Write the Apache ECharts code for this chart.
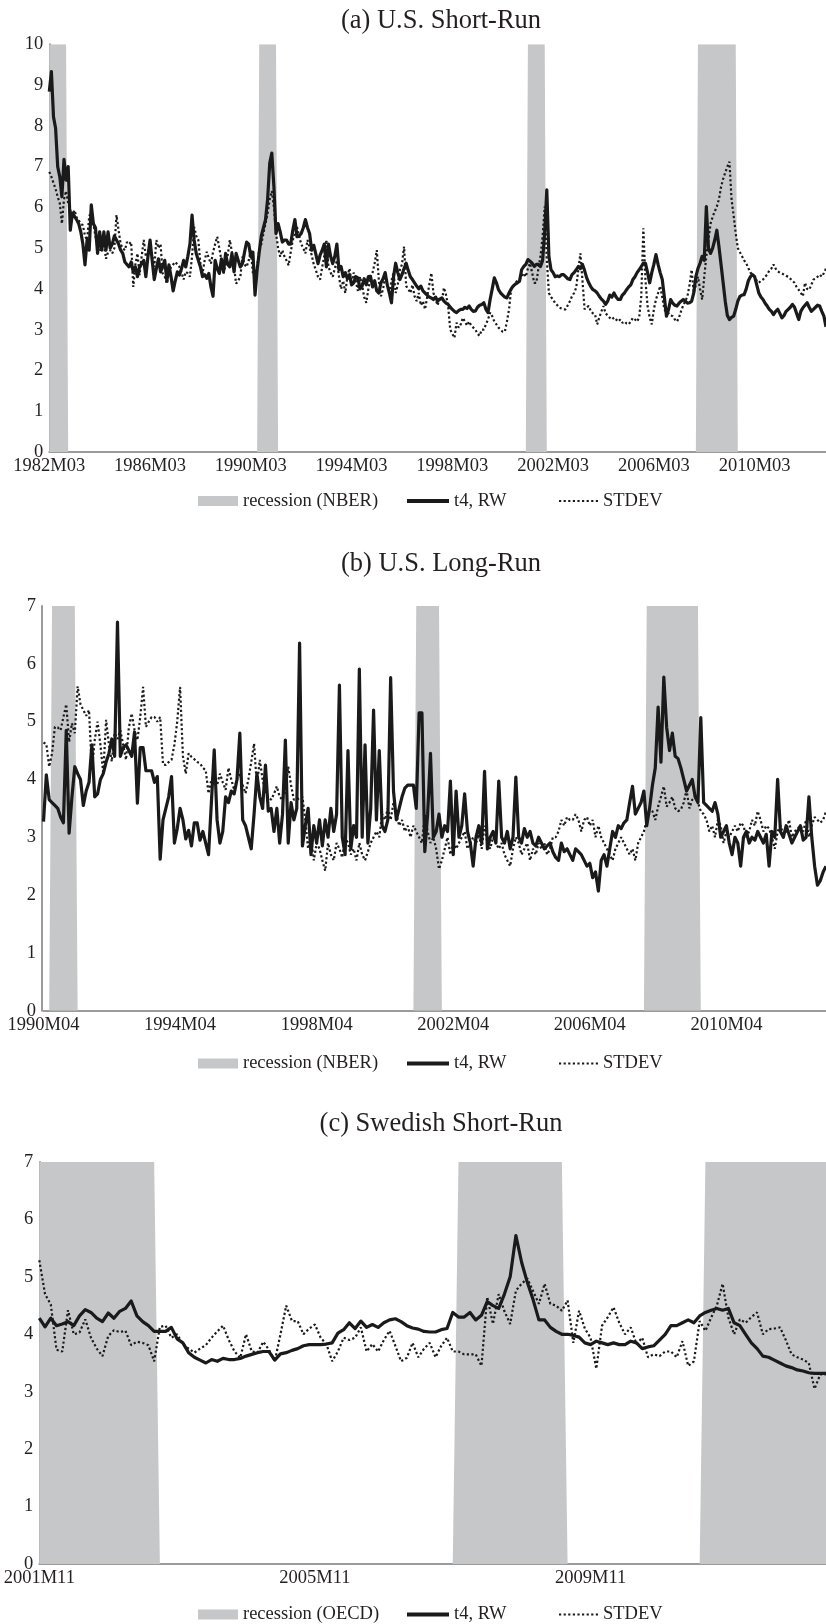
<!DOCTYPE html>
<html>
<head>
<meta charset="utf-8">
<title>Forecast uncertainty: t4 random walk vs. standard deviation</title>
<script src="https://cdn.jsdelivr.net/npm/echarts@6/dist/echarts.min.js"></script>
<style>
  html, body { margin: 0; padding: 0; background: #ffffff; }
  #chart { width: 826px; height: 1624px; }
</style>
</head>
<body>
<div id="chart"></div>
<script>
// ---------------------------------------------------------------------------
// Data: monthly series, one value per month from the stated start month.
// ---------------------------------------------------------------------------

// (a) U.S. short-run, 1982M03 onward
const usShortStart = '1982M03';
const usShortT4 = [
  8.84, 9.33, 8.22, 7.94, 7.00, 6.75, 6.26, 7.18, 6.67, 7.00,
  5.44, 5.86, 5.78, 5.70, 5.60, 5.40, 5.10, 4.59, 5.20, 4.95,
  6.06, 5.60, 5.50, 4.87, 5.40, 4.95, 5.40, 4.95, 5.40, 5.00,
  5.10, 5.30, 5.20, 5.10, 4.95, 4.87, 4.66, 4.60, 4.54, 4.66,
  4.42, 4.54, 4.30, 4.54, 4.62, 4.70, 4.30, 4.80, 5.20, 4.70,
  4.23, 4.50, 4.74, 4.42, 4.55, 4.70, 4.19, 4.59, 4.30, 3.95,
  4.20, 4.42, 4.34, 4.50, 4.70, 4.54, 4.80, 5.10, 5.81, 5.20,
  4.87, 4.70, 4.54, 4.30, 4.35, 4.26, 4.38, 4.05, 3.82, 4.70,
  4.50, 4.38, 4.74, 4.42, 4.87, 4.60, 4.54, 4.87, 4.42, 4.87,
  4.70, 4.54, 4.62, 4.90, 5.15, 5.10, 4.79, 4.90, 3.85, 4.46,
  4.90, 5.30, 5.50, 5.70, 6.20, 7.08, 7.33, 6.50, 5.36, 5.60,
  5.40, 5.15, 5.20, 5.20, 5.10, 5.10, 5.44, 5.70, 5.28, 5.30,
  5.36, 5.50, 5.70, 5.50, 5.36, 4.95, 5.07, 4.85, 4.62, 4.83,
  4.95, 5.10, 4.54, 5.10, 4.80, 4.62, 4.80, 5.10, 4.47, 4.55,
  4.30, 4.40, 4.25, 4.35, 4.10, 4.15, 4.30, 4.27, 4.00, 4.07,
  4.25, 4.10, 4.30, 4.31, 4.05, 4.20, 3.95, 3.90, 4.15, 4.25,
  4.40, 4.10, 3.90, 3.66, 4.30, 4.63, 4.40, 4.23, 4.35, 4.50,
  4.63, 4.45, 4.30, 4.23, 4.15, 4.07, 4.00, 4.07, 3.95, 3.90,
  3.85, 3.80, 3.78, 3.74, 3.80, 3.70, 3.75, 3.78, 3.70, 3.65,
  3.62, 3.55, 3.50, 3.45, 3.42, 3.47, 3.50, 3.50, 3.55, 3.52,
  3.58, 3.50, 3.45, 3.46, 3.55, 3.60, 3.62, 3.66, 3.50, 3.42,
  3.74, 4.00, 4.27, 4.15, 3.98, 3.90, 3.85, 3.80, 3.78, 3.90,
  4.00, 4.07, 4.12, 4.15, 4.19, 4.47, 4.55, 4.60, 4.72, 4.68,
  4.63, 4.55, 4.60, 4.60, 4.55, 4.70, 5.40, 6.43, 4.80, 4.47,
  4.40, 4.30, 4.32, 4.30, 4.35, 4.35, 4.30, 4.25, 4.23, 4.35,
  4.40, 4.47, 4.55, 4.50, 4.60, 4.45, 4.27, 4.15, 4.05, 3.98,
  3.95, 3.90, 3.82, 3.75, 3.70, 3.62, 3.70, 3.85, 3.80, 3.90,
  3.80, 3.74, 3.74, 3.85, 3.90, 3.98, 4.05, 4.10, 4.23, 4.30,
  4.40, 4.47, 4.55, 4.63, 4.63, 4.40, 4.15, 4.40, 4.60, 4.84,
  4.60, 4.40, 4.23, 3.80, 3.33, 3.50, 3.74, 3.65, 3.60, 3.58,
  3.65, 3.70, 3.74, 3.70, 3.65, 3.66, 3.70, 3.90, 4.30, 4.50,
  4.63, 4.80, 4.70, 6.02, 5.00, 4.87, 5.00, 5.20, 5.44, 5.04,
  4.60, 4.15, 3.70, 3.35, 3.25, 3.30, 3.33, 3.50, 3.70, 3.82,
  3.85, 3.86, 4.00, 4.20, 4.30, 4.35, 4.30, 4.10, 3.90, 3.80,
  3.74, 3.65, 3.58, 3.50, 3.45, 3.37, 3.45, 3.50, 3.40, 3.29,
  3.35, 3.45, 3.50, 3.55, 3.62, 3.55, 3.40, 3.25, 3.45, 3.54,
  3.60, 3.66, 3.55, 3.45, 3.50, 3.55, 3.60, 3.58, 3.45, 3.33,
  3.07
];
const usShortStdev = [
  6.87, 6.75, 6.60, 6.45, 6.26, 6.10, 5.60, 6.20, 6.40, 6.10,
  5.93, 5.80, 5.93, 5.75, 5.68, 5.60, 5.56, 5.30, 5.20, 5.77,
  5.93, 5.60, 5.28, 5.10, 4.95, 5.00, 5.10, 4.74, 4.90, 4.95,
  4.87, 5.00, 5.81, 5.44, 5.10, 5.00, 4.95, 5.15, 5.10, 5.15,
  4.05, 4.60, 4.87, 4.34, 4.80, 5.20, 4.79, 4.90, 5.07, 4.80,
  4.54, 5.20, 5.00, 5.10, 4.38, 4.30, 4.13, 4.40, 4.54, 4.60,
  4.66, 4.60, 4.54, 4.40, 4.23, 4.42, 4.38, 4.30, 4.80, 5.52,
  5.30, 5.20, 4.60, 4.38, 4.70, 4.91, 4.75, 4.62, 4.90, 5.10,
  5.28, 5.00, 4.70, 4.38, 4.60, 4.83, 5.20, 4.90, 4.54, 4.13,
  4.20, 4.30, 4.79, 4.60, 4.54, 4.70, 4.95, 4.38, 4.45, 4.54,
  4.95, 5.10, 5.36, 5.60, 5.85, 6.20, 6.40, 6.00, 5.36, 5.00,
  4.79, 4.95, 4.80, 4.70, 4.58, 4.90, 5.20, 5.35, 5.52, 5.30,
  5.10, 5.00, 4.87, 5.20, 5.00, 4.83, 4.60, 4.46, 4.30, 4.23,
  4.54, 4.80, 5.20, 4.54, 4.40, 4.30, 4.50, 4.70, 4.30, 4.00,
  4.20, 3.90, 4.30, 4.50, 4.15, 4.40, 4.20, 3.95, 4.30, 4.10,
  3.80, 3.66, 4.00, 4.30, 4.40, 4.63, 4.95, 4.20, 3.82, 4.00,
  4.30, 4.10, 3.90, 4.20, 4.40, 3.90, 4.10, 4.47, 4.60, 5.04,
  4.07, 4.00, 3.90, 4.10, 3.82, 3.70, 3.90, 3.60, 3.70, 3.50,
  3.80, 4.10, 4.39, 3.90, 3.74, 3.60, 3.80, 3.70, 4.03, 3.85,
  3.58, 3.00, 2.90, 2.80, 3.17, 3.05, 3.13, 3.29, 3.20, 3.10,
  3.20, 3.10, 3.05, 3.00, 2.90, 2.85, 3.00, 3.00, 3.13, 3.25,
  3.42, 3.33, 3.20, 3.13, 3.05, 3.00, 2.95, 2.95, 3.20, 3.50,
  3.98, 4.07, 4.15, 4.20, 4.23, 4.30, 4.39, 4.30, 4.50, 4.63,
  4.40, 4.15, 4.15, 4.50, 4.80, 5.30, 6.02, 4.72, 3.90, 3.80,
  3.74, 3.65, 3.60, 3.54, 3.52, 3.50, 3.50, 3.60, 3.70, 3.82,
  3.90, 4.03, 4.47, 4.87, 4.20, 3.50, 3.55, 3.58, 3.45, 3.40,
  3.37, 3.13, 3.30, 3.45, 3.58, 3.40, 3.35, 3.29, 3.25, 3.30,
  3.25, 3.20, 3.25, 3.17, 3.20, 3.15, 3.13, 3.20, 3.29, 3.25,
  3.20, 3.30, 3.82, 5.49, 4.20, 3.58, 3.30, 3.13, 3.50, 3.74,
  3.90, 4.07, 3.80, 3.50, 3.42, 3.40, 3.35, 3.33, 3.25, 3.20,
  3.30, 3.46, 3.60, 3.70, 3.82, 4.10, 4.47, 3.90, 4.10, 4.30,
  4.00, 3.74, 4.30, 4.80, 5.20, 5.60, 5.77, 5.90, 6.02, 6.20,
  6.50, 6.70, 6.85, 7.00, 7.12, 6.20, 5.80, 5.36, 5.00, 4.90,
  4.80, 4.70, 4.63, 4.51, 4.40, 4.35, 4.30, 4.20, 4.15, 4.20,
  4.23, 4.30, 4.35, 4.45, 4.50, 4.60, 4.50, 4.43, 4.40, 4.38,
  4.35, 4.32, 4.30, 4.25, 4.20, 4.15, 4.05, 3.98, 3.90, 3.82,
  4.15, 4.00, 3.98, 4.10, 4.23, 4.25, 4.30, 4.35, 4.30, 4.39,
  4.50
];
const nberShort = [['1982M03', '1982M11'], ['1990M07', '1991M03'], ['2001M03', '2001M11'], ['2007M12', '2009M06']];

// (b) U.S. long-run, 1990M04 onward
const usLongStart = '1990M04';
const usLongT4 = [
  3.27, 4.08, 3.65, 3.60, 3.55, 3.50, 3.35, 3.25, 4.85, 3.07,
  3.70, 4.22, 4.10, 4.00, 3.55, 3.80, 3.95, 4.60, 3.70, 3.75,
  4.00, 4.10, 4.30, 4.45, 4.70, 4.40, 6.72, 4.40, 4.55, 4.60,
  4.50, 4.40, 4.82, 3.59, 4.55, 4.55, 4.15, 4.15, 4.15, 3.95,
  4.05, 2.62, 3.30, 3.50, 3.70, 4.05, 2.90, 3.15, 3.50, 3.30,
  2.97, 3.12, 2.85, 3.25, 3.25, 2.95, 3.10, 2.90, 2.70, 3.60,
  4.51, 3.30, 2.90, 3.10, 3.70, 3.60, 3.80, 3.75, 4.00, 4.80,
  3.30, 3.20, 3.00, 2.80, 3.40, 4.10, 3.70, 3.50, 4.25, 3.45,
  3.50, 3.10, 3.50, 2.90, 3.40, 4.68, 2.90, 3.60, 3.30, 3.50,
  6.36, 2.85, 3.20, 3.50, 2.70, 3.20, 2.90, 3.30, 2.85, 3.30,
  3.00, 3.50, 3.10, 3.40, 5.63, 3.00, 2.70, 4.50, 2.80, 3.20,
  3.00, 5.91, 3.00, 4.60, 2.90, 3.50, 5.20, 3.30, 4.50, 3.20,
  3.10, 3.30, 5.76, 3.80, 3.30, 3.50, 3.70, 3.85, 3.90, 3.90,
  3.90, 3.50, 5.15, 5.15, 2.75, 3.40, 4.45, 3.00, 3.10, 3.40,
  3.00, 3.20, 3.10, 3.97, 2.70, 3.80, 3.00, 3.20, 3.75, 3.10,
  2.90, 2.50, 3.00, 3.20, 2.90, 4.14, 2.80, 3.00, 3.10, 2.90,
  3.97, 3.00, 2.90, 3.10, 2.80, 3.00, 4.04, 3.00, 2.90, 3.15,
  3.00, 3.10, 2.90, 2.85, 3.00, 2.90, 2.80, 2.85, 2.90, 2.75,
  2.65, 2.60, 2.90, 2.75, 2.80, 2.70, 2.60, 2.80, 2.75, 2.70,
  2.60, 2.50, 2.55, 2.30, 2.40, 2.07, 2.60, 2.70, 2.50, 2.80,
  3.10, 3.00, 3.20, 3.15, 3.25, 3.30, 3.60, 3.88, 3.40, 3.50,
  3.60, 3.80, 3.20, 3.50, 3.90, 4.20, 5.25, 4.30, 5.77, 4.90,
  4.50, 4.80, 4.40, 4.36, 4.20, 4.00, 3.80, 3.90, 4.00, 3.70,
  3.60, 5.07, 3.60, 3.55, 3.50, 3.45, 3.60, 3.40, 3.00, 3.10,
  3.20, 2.90, 2.70, 3.00, 2.90, 2.50, 3.00, 3.10, 2.90, 3.00,
  2.95, 3.10, 3.00, 2.90, 3.05, 2.50, 3.10, 3.00, 4.00, 3.10,
  3.00, 3.20, 3.05, 2.90, 3.00, 3.10, 3.20, 2.95, 3.00, 3.70,
  3.00, 2.50, 2.17, 2.25, 2.40, 2.50
];
const usLongStdev = [
  4.64, 4.61, 4.22, 4.45, 4.91, 4.90, 4.85, 5.08, 5.30, 4.65,
  4.97, 4.80, 5.61, 5.30, 5.20, 5.10, 5.20, 4.16, 4.68, 5.00,
  4.60, 4.10, 5.03, 4.60, 4.31, 4.80, 4.70, 4.85, 4.60, 4.34,
  4.90, 5.14, 4.85, 4.68, 5.08, 5.60, 4.91, 5.00, 5.08, 5.08,
  5.00, 5.08, 4.26, 4.25, 4.30, 4.34, 4.60, 5.00, 5.60, 4.40,
  4.10, 4.45, 4.39, 4.35, 4.30, 4.28, 4.20, 4.16, 3.76, 4.00,
  4.05, 3.90, 4.10, 3.95, 3.82, 4.20, 4.00, 3.82, 4.00, 4.10,
  3.90, 3.76, 4.00, 4.30, 4.62, 3.88, 4.34, 4.00, 3.76, 3.70,
  3.65, 3.75, 3.88, 3.70, 3.65, 3.80, 4.22, 3.90, 3.65, 3.65,
  3.68, 3.70, 3.30, 2.80, 3.00, 2.60, 2.90, 2.80, 2.60, 2.42,
  2.90, 2.70, 2.60, 2.90, 2.80, 2.65, 3.00, 2.90, 2.70, 2.80,
  2.60, 2.90, 2.70, 2.60, 2.75, 2.90, 3.00, 3.10, 3.00, 3.40,
  3.30, 3.50, 3.30, 3.60, 3.40, 3.20, 3.30, 3.10, 3.20, 3.00,
  3.20, 3.10, 3.00, 2.90, 3.40, 3.10, 2.90, 3.00, 2.80, 2.45,
  2.60, 2.80, 3.00, 2.70, 2.90, 2.80, 2.90, 3.00, 3.10, 2.80,
  2.90, 3.00, 2.90, 3.05, 2.80, 3.20, 2.90, 2.80, 3.00, 2.90,
  2.80, 2.90, 2.70, 2.60, 2.50, 2.80, 3.00, 2.90, 2.70, 2.80,
  2.90, 2.60, 2.80, 2.70, 2.90, 2.80, 2.90, 2.70, 2.80, 3.00,
  3.00, 3.10, 3.30, 3.20, 3.35, 3.30, 3.30, 3.40, 3.30, 3.10,
  3.30, 3.35, 3.20, 3.30, 3.00, 3.20, 3.00, 2.90, 2.80, 2.70,
  2.60, 2.80, 2.90, 3.00, 2.90, 2.80, 2.70, 2.80, 2.60, 2.90,
  3.00, 3.10, 3.30, 3.50, 3.45, 3.30, 3.53, 3.70, 3.88, 3.53,
  3.60, 3.70, 3.50, 3.45, 3.48, 3.60, 3.82, 3.50, 3.65, 3.70,
  3.60, 3.45, 3.40, 3.30, 3.10, 3.20, 3.00, 3.30, 3.20, 2.90,
  3.10, 3.00, 3.10, 3.20, 3.10, 3.25, 3.20, 3.00, 3.10, 3.30,
  3.20, 3.45, 3.30, 3.10, 3.20, 3.15, 3.00, 2.80, 3.10, 3.20,
  3.05, 3.10, 3.30, 3.00, 3.10, 3.15, 3.20, 3.10, 3.30, 3.00,
  3.20, 3.35, 3.30, 3.25, 3.30, 3.45
];
const nberLong = [['1990M07', '1991M03'], ['2001M03', '2001M11'], ['2007M12', '2009M06']];

// (c) Swedish short-run, 2001M11 onward
const seShortStart = '2001M11';
const seShortT4 = [
  4.28, 4.13, 4.28, 4.15, 4.18, 4.22, 4.15, 4.32, 4.43, 4.38,
  4.28, 4.22, 4.37, 4.28, 4.40, 4.45, 4.58, 4.32, 4.22, 4.15,
  4.05, 4.05, 4.05, 4.12, 3.92, 3.85, 3.68, 3.60, 3.55, 3.50,
  3.56, 3.53, 3.58, 3.56, 3.56, 3.58, 3.62, 3.65, 3.68, 3.70,
  3.70, 3.55, 3.66, 3.68, 3.72, 3.75, 3.80, 3.82, 3.82, 3.82,
  3.83, 3.85, 4.02, 4.08, 4.20, 4.10, 4.23, 4.12, 4.17, 4.12,
  4.20, 4.25, 4.27, 4.22, 4.15, 4.11, 4.09, 4.05, 4.04, 4.04,
  4.08, 4.10, 4.38, 4.30, 4.30, 4.38, 4.25, 4.33, 4.57, 4.50,
  4.45, 4.70, 5.00, 5.72, 5.25, 4.90, 4.60, 4.25, 4.25, 4.12,
  4.05, 4.00, 4.00, 3.98, 3.95, 3.85, 3.82, 3.88, 3.85, 3.82,
  3.85, 3.82, 3.82, 3.88, 3.85, 3.75, 3.78, 3.80, 3.90, 4.00,
  4.15, 4.15, 4.20, 4.25, 4.20, 4.32, 4.38, 4.42, 4.45, 4.42,
  4.45, 4.20, 4.15, 4.00, 3.85, 3.75, 3.62, 3.60, 3.55, 3.50,
  3.45, 3.42, 3.38, 3.36, 3.33, 3.32, 3.32, 3.32
];
const seShortStdev = [
  5.29, 4.70, 4.52, 3.73, 3.70, 4.42, 4.00, 4.03, 4.26, 3.94,
  3.75, 3.62, 3.97, 4.07, 4.04, 4.06, 3.81, 3.87, 3.85, 3.81,
  3.53, 4.13, 4.15, 3.94, 4.00, 3.83, 3.75, 3.68, 3.75, 3.81,
  3.94, 4.05, 4.15, 3.90, 3.70, 3.59, 4.00, 3.70, 3.68, 3.87,
  3.73, 3.53, 4.00, 4.50, 4.23, 4.23, 4.00, 4.10, 4.17, 3.94,
  3.83, 3.53, 3.70, 3.94, 3.90, 3.94, 4.12, 3.70, 3.83, 3.70,
  3.90, 4.06, 3.80, 3.53, 3.59, 3.85, 3.60, 3.75, 3.85, 3.60,
  3.80, 3.94, 3.70, 3.70, 3.65, 3.65, 3.65, 3.45, 4.65, 4.18,
  4.70, 4.40, 4.18, 4.76, 4.88, 4.97, 4.75, 4.53, 4.88, 4.53,
  4.50, 4.41, 4.59, 3.85, 4.41, 4.10, 3.94, 3.40, 4.15, 4.30,
  4.47, 4.20, 4.00, 4.12, 3.83, 3.94, 3.60, 3.65, 3.62, 3.70,
  3.70, 3.60, 3.88, 3.45, 3.53, 4.23, 4.06, 4.29, 4.50, 4.88,
  4.29, 4.00, 4.26, 4.20, 4.30, 4.38, 4.00, 4.09, 4.10, 4.12,
  3.90, 3.65, 3.60, 3.56, 3.50, 3.05, 3.30, 3.30
];
const oecdSweden = [['2001M11', '2003M07'], ['2007M12', '2009M06'], ['2011M07', '2013M04']];

// Every fourth year gets an axis label (48 months).
const LABEL_STEP = 48;

// ---------------------------------------------------------------------------
// Helpers
// ---------------------------------------------------------------------------
function monthLabels(start, count) {
  const parts = start.split('M');
  let y = Number(parts[0]);
  let m = Number(parts[1]);
  const out = [];
  for (let i = 0; i < count; i++) {
    out.push(y + 'M' + (m < 10 ? '0' + m : String(m)));
    m += 1;
    if (m > 12) { m = 1; y += 1; }
  }
  return out;
}

// Recession indicator: full axis height inside a dated period, zero outside.
function recessionBand(labels, periods, top) {
  return labels.map(function (l) {
    return periods.some(function (p) { return l >= p[0] && l <= p[1]; }) ? top : 0;
  });
}

// ---------------------------------------------------------------------------
// Layout and styling of the three stacked panels
// ---------------------------------------------------------------------------
const FONT = '"Liberation Serif", "Times New Roman", Times, serif';
const INK = '#231f20';
const AXIS_GREY = '#9b9b9b';
const SHADE = '#c6c7c9';

const panels = [
  { title: '(a) U.S. Short-Run', titleTop: 7.5, start: usShortStart, t4: usShortT4, sd: usShortStdev,
    periods: nberShort, recName: 'recession (NBER)', yMax: 10, yOffset: 0,
    grid: { left: 49.3, top: 44.3, right: 0, height: 407.7 }, legendTop: 491.5 },
  { title: '(b) U.S. Long-Run', titleTop: 550.5, start: usLongStart, t4: usLongT4, sd: usLongStdev,
    periods: nberLong, recName: 'recession (NBER) ', yMax: 7, yOffset: 1.5,
    grid: { left: 43.5, top: 606, right: 0, height: 404.7 }, legendTop: 1054 },
  { title: '(c) Swedish Short-Run', titleTop: 1110.5, start: seShortStart, t4: seShortT4, sd: seShortStdev,
    periods: oecdSweden, recName: 'recession (OECD)', yMax: 7, yOffset: 0,
    grid: { left: 39.3, top: 1162, right: 0, height: 402 }, legendTop: 1605 }
];

const labelText = { fontFamily: FONT, fontSize: 18.5, color: INK };

const option = {
  animation: false,
  backgroundColor: '#ffffff',
  title: [],
  grid: [],
  xAxis: [],
  yAxis: [],
  legend: [],
  series: []
};

panels.forEach(function (p, k) {
  const labels = monthLabels(p.start, p.t4.length);
  // legend entries repeat per panel; trailing spaces keep the names distinct
  const pad = k === 0 ? '' : (k === 1 ? ' ' : '  ');
  const t4Name = 't4, RW' + pad;
  const sdName = 'STDEV' + pad;

  option.title.push({
    text: p.title,
    left: 441,
    top: p.titleTop,
    textAlign: 'center',
    padding: 0,
    textStyle: { fontFamily: FONT, fontSize: 26.5, fontWeight: 'normal', color: INK }
  });

  option.grid.push(Object.assign({ containLabel: false }, p.grid));

  option.xAxis.push({
    type: 'category',
    gridIndex: k,
    data: labels,
    boundaryGap: false,
    axisLine: { show: true, lineStyle: { color: AXIS_GREY, width: 2 } },
    axisTick: { show: false },
    splitLine: { show: false },
    axisLabel: Object.assign({ interval: LABEL_STEP - 1, margin: 5, showMinLabel: true }, labelText)
  });

  option.yAxis.push({
    type: 'value',
    gridIndex: k,
    min: 0,
    max: p.yMax,
    interval: 1,
    offset: p.yOffset,
    axisLine: { show: true, lineStyle: { color: AXIS_GREY, width: 2 } },
    axisTick: { show: false },
    splitLine: { show: false },
    axisLabel: Object.assign({ margin: 6 }, labelText)
  });

  option.series.push({
    name: p.recName,
    type: 'line',
    xAxisIndex: k,
    yAxisIndex: k,
    data: recessionBand(labels, p.periods, p.yMax),
    symbol: 'none',
    silent: true,
    z: 1,
    itemStyle: { color: SHADE },
    lineStyle: { width: 0, opacity: 0 },
    areaStyle: { color: SHADE, opacity: 1 }
  });
  option.series.push({
    name: t4Name,
    type: 'line',
    xAxisIndex: k,
    yAxisIndex: k,
    data: p.t4,
    symbol: 'none',
    silent: true,
    z: 3,
    itemStyle: { color: '#1a1a1a' },
    lineStyle: { color: '#1a1a1a', width: 3.2, join: 'round' }
  });
  option.series.push({
    name: sdName,
    type: 'line',
    xAxisIndex: k,
    yAxisIndex: k,
    data: p.sd,
    symbol: 'none',
    silent: true,
    z: 4,
    itemStyle: { color: '#1a1a1a' },
    lineStyle: { color: '#1a1a1a', width: 2.2, type: [2.2, 2.4] }
  });

  const legendBase = { top: p.legendTop, padding: 0, selectedMode: false, textStyle: labelText,
    formatter: function (n) { return n.trim(); } };
  option.legend.push(Object.assign({}, legendBase, {
    left: 198, itemWidth: 40, itemHeight: 10,
    data: [{ name: p.recName, icon: 'rect' }]
  }));
  option.legend.push(Object.assign({}, legendBase, {
    left: 405, itemWidth: 42, itemHeight: 10,
    itemStyle: { opacity: 0 },
    lineStyle: { width: 4 },
    data: [{ name: t4Name }]
  }));
  option.legend.push(Object.assign({}, legendBase, {
    left: 558, itemWidth: 39, itemHeight: 10,
    itemStyle: { opacity: 0 },
    data: [{ name: sdName }]
  }));
});

const chart = echarts.init(document.getElementById('chart'), null, { renderer: 'canvas' });
chart.setOption(option);
</script>
</body>
</html>
